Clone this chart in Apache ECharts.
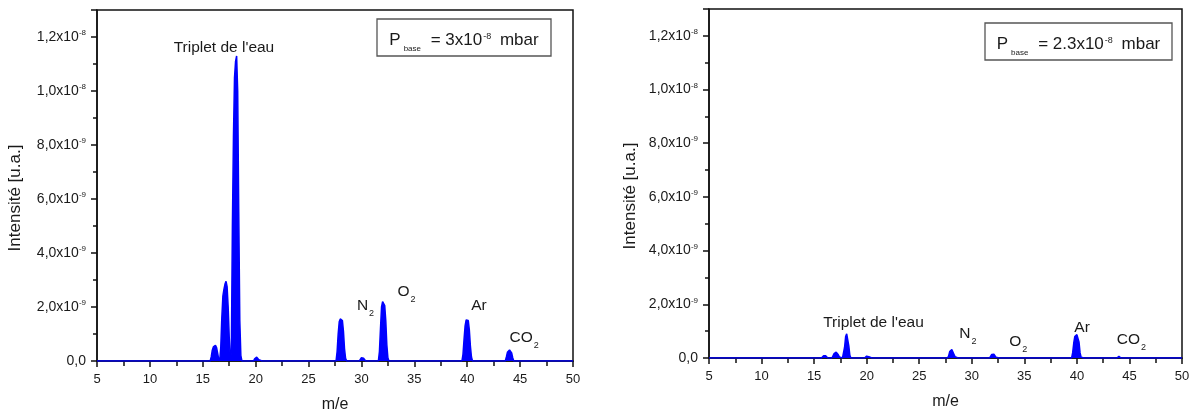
<!DOCTYPE html>
<html><head><meta charset="utf-8">
<script src="https://cdn.jsdelivr.net/npm/echarts@6/dist/echarts.min.js"></script>
<style>html,body{margin:0;padding:0;background:#fff}#c{width:1189px;height:412px}</style>
</head><body><div id="c"></div>
<script>
// y values in units of 1e-9 (u.a.)
const yTickLabels = ['0,0','2,0x10{sup|-9}','4,0x10{sup|-9}','6,0x10{sup|-9}','8,0x10{sup|-9}','1,0x10{sup|-8}','1,2x10{sup|-8}'];
const xTickLabels = ['5','10','15','20','25','30','35','40','45','50'];

const mzLeft = [5,
  15.7,15.8,15.9,16.0,16.1,16.2,16.3,16.4,16.5,
  16.6,16.7,16.8,16.9,17.0,17.1,17.2,17.3,17.4,17.5,
  17.6,17.7,17.8,17.9,18.0,18.1,18.2,18.3,18.4,18.5,18.6,18.7,18.9,
  19.8,19.9,20.0,20.1,20.2,20.3,20.4,20.6,
  27.6,27.7,27.8,27.9,28.0,28.1,28.2,28.3,28.4,28.5,28.6,28.8,
  29.8,29.9,30.0,30.1,30.2,30.3,30.4,30.6,
  31.6,31.7,31.8,31.9,32.0,32.1,32.2,32.3,32.4,32.5,32.6,32.8,
  39.5,39.6,39.7,39.8,39.9,40.0,40.1,40.2,40.3,40.4,40.5,40.7,
  43.6,43.7,43.8,43.9,44.0,44.1,44.2,44.3,44.4,44.6,
  50];
const intLeft = [0,
  0,0.15,0.4,0.52,0.58,0.58,0.5,0.3,0.08,
  0,0.5,1.6,2.4,2.65,2.85,2.95,2.75,2.0,0.9,
  0.1,0.3,5.0,8.3,10.5,11.1,11.3,10.0,5.5,1.5,0.2,0,0,
  0,0.08,0.13,0.14,0.12,0.05,0,0,
  0,0.35,1.0,1.45,1.56,1.58,1.5,1.1,0.45,0.1,0,0,
  0,0.06,0.12,0.15,0.1,0.04,0,0,
  0,0.35,1.2,2.0,2.2,2.22,2.05,1.5,0.6,0.12,0,0,
  0,0.25,0.8,1.3,1.52,1.57,1.5,1.15,0.55,0.15,0,0,
  0,0.15,0.32,0.39,0.41,0.39,0.3,0.12,0,0,
  0];

const mzRight = [5,
  15.7,15.8,15.9,16.0,16.1,16.2,16.3,16.5,
  16.7,16.8,16.9,17.0,17.1,17.2,17.3,17.4,17.5,17.7,
  17.8,17.9,18.0,18.1,18.2,18.3,18.4,18.5,18.7,
  19.8,19.9,20.0,20.1,20.2,20.3,20.5,
  27.7,27.8,27.9,28.0,28.1,28.2,28.3,28.4,28.5,28.7,
  31.7,31.8,31.9,32.0,32.1,32.2,32.3,32.4,32.6,
  39.5,39.6,39.7,39.8,39.9,40.0,40.1,40.2,40.3,40.4,40.5,40.7,
  43.8,43.9,44.0,44.1,44.2,44.4,
  50];
const intRight = [0,
  0,0.04,0.08,0.09,0.08,0.04,0,0,
  0,0.07,0.16,0.21,0.22,0.19,0.12,0.04,0,0,
  0,0.4,0.8,0.9,0.85,0.45,0.1,0,0,
  0,0.04,0.07,0.08,0.05,0,0,
  0,0.08,0.24,0.3,0.31,0.26,0.14,0.05,0,0,
  0,0.05,0.13,0.15,0.14,0.09,0.03,0,0,
  0,0.2,0.55,0.8,0.86,0.87,0.83,0.6,0.2,0.03,0,0,
  0,0.04,0.06,0.04,0,0,
  0];

// annotations (data coordinates: m/e, intensity in 1e-9)
const notesLeft = [
  {t:"Triplet de l'eau", x:17.0, y:11.6, align:'center'},
  {t:'N{sub|2}', x:29.57, y:2.05, align:'left'},
  {t:'O{sub|2}', x:33.41, y:2.57, align:'left'},
  {t:'Ar', x:40.38, y:2.04, align:'left'},
  {t:'CO{sub|2}', x:44.0, y:0.86, align:'left'}
];
const notesRight = [
  {t:"Triplet de l'eau", x:15.86, y:1.31, align:'left'},
  {t:'N{sub|2}', x:28.81, y:0.90, align:'left'},
  {t:'O{sub|2}', x:33.57, y:0.61, align:'left'},
  {t:'Ar', x:39.76, y:1.14, align:'left'},
  {t:'CO{sub|2}', x:43.8, y:0.68, align:'left'}
];
const pressureLeft = 'P{sub|base} = 3x10{sup|-8} mbar';
const pressureRight = 'P{sub|base} = 2.3x10{sup|-8} mbar';

const FONT = '"Liberation Sans", Arial, sans-serif';
const TXT = '#1a1a1a';
const BLUE = '#0000ff';

function pairs(xs, ys){ return xs.map((x,i)=>[x, ys[i]]); }

function yFmt(v){
  const idx = Math.round(v/2);
  if (Math.abs(v - idx*2) > 1e-6) return '';
  return yTickLabels[idx] || '';
}
function xFmt(v){
  const idx = Math.round((v-5)/5);
  if (Math.abs(v - (5+idx*5)) > 1e-6) return '';
  return xTickLabels[idx] || '';
}

function xAxis(gi){
  return {
    type:'value', gridIndex:gi, min:5, max:50, interval:5,
    name:'m/e', nameLocation:'middle', nameGap:36,
    nameTextStyle:{fontFamily:FONT, fontSize:16, color:TXT},
    axisLine:{show:true, lineStyle:{color:'#111', width:1.5}},
    axisTick:{show:true, inside:false, length:6, lineStyle:{color:'#111', width:1.5}},
    minorTick:{show:true, splitNumber:2, length:5, lineStyle:{color:'#111', width:1.5}},
    axisLabel:{fontFamily:FONT, fontSize:13, color:TXT, margin:12, formatter:xFmt},
    splitLine:{show:false}
  };
}
function yAxis(gi){
  return {
    type:'value', gridIndex:gi, min:0, max:13, interval:2,
    axisLine:{show:true, lineStyle:{color:'#111', width:1.5}},
    axisTick:{show:true, inside:false, length:6, lineStyle:{color:'#111', width:1.5}},
    minorTick:{show:true, splitNumber:2, length:4, lineStyle:{color:'#111', width:1.5}},
    axisLabel:{fontFamily:FONT, fontSize:14, color:TXT, margin:11, lineHeight:16, formatter:yFmt,
      rich:{sup:{fontFamily:FONT, fontSize:8, lineHeight:9, verticalAlign:'top', color:TXT}}},
    splitLine:{show:false}
  };
}
function series(gi, xs, ys){
  return {
    type:'line', xAxisIndex:gi, yAxisIndex:gi, data:pairs(xs, ys), z:5,
    symbol:'none', silent:true, animation:false,
    lineStyle:{color:BLUE, width:1.5}, areaStyle:{color:BLUE, opacity:1}
  };
}

const chart = echarts.init(document.getElementById('c'), null, {renderer:'canvas'});
chart.setOption({
  animation:false,
  backgroundColor:'#fff',
  grid:[
    {left:97, top:10, width:476, height:351, show:true, borderColor:'#111', borderWidth:1.5,
      containLabel:false, outerBoundsMode:'none'},
    {left:709, top:9, width:473, height:349, show:true, borderColor:'#111', borderWidth:1.5,
      containLabel:false, outerBoundsMode:'none'}
  ],
  xAxis:[xAxis(0), xAxis(1)],
  yAxis:[yAxis(0), yAxis(1)],
  series:[series(0, mzLeft, intLeft), series(1, mzRight, intRight)]
});

const richNote = {
  sub:{fontFamily:FONT, fontSize:9, lineHeight:9, verticalAlign:'bottom', color:TXT, padding:[0,0,0,1]}
};
function noteGraphics(gi, notes){
  return notes.map(n=>{
    const p = chart.convertToPixel({xAxisIndex:gi, yAxisIndex:gi}, [n.x, n.y]);
    return {type:'text', x:p[0], y:p[1], z:50, silent:true,
      style:{text:n.t, fontFamily:FONT, fontSize:15.5, fill:TXT, align:n.align, verticalAlign:'middle',
        lineHeight:24, rich:richNote}};
  });
}
function box(x, y, w, h, text){
  return [
    {type:'rect', z:40, silent:true, shape:{x:x, y:y, width:w, height:h},
      style:{fill:'#fff', stroke:'#555', lineWidth:1.3}},
    {type:'text', z:41, silent:true, x:x+w/2, y:y+h/2+3,
      style:{text:text, fontFamily:FONT, fontSize:17, fill:TXT, align:'center', verticalAlign:'middle', lineHeight:24,
        rich:{
          sub:{fontFamily:FONT, fontSize:8, lineHeight:8, verticalAlign:'bottom', fill:TXT, padding:[0,5,0,3]},
          sup:{fontFamily:FONT, fontSize:9, lineHeight:9, verticalAlign:'top', fill:TXT, padding:[4,4,0,1]}
        }}}
  ];
}
const yName = "Intensité [u.a.]";
chart.setOption({
  graphic:[].concat(
    noteGraphics(0, notesLeft),
    noteGraphics(1, notesRight),
    box(377, 19, 174, 37, pressureLeft),
    box(985, 23, 187, 37, pressureRight),
    [
      {type:'text', x:15, y:198, rotation:Math.PI/2, silent:true,
        style:{text:yName, fontFamily:FONT, fontSize:17, fill:TXT, align:'center', verticalAlign:'middle'}},
      {type:'text', x:630, y:196, rotation:Math.PI/2, silent:true,
        style:{text:yName, fontFamily:FONT, fontSize:17, fill:TXT, align:'center', verticalAlign:'middle'}}
    ]
  )
});
</script></body></html>
